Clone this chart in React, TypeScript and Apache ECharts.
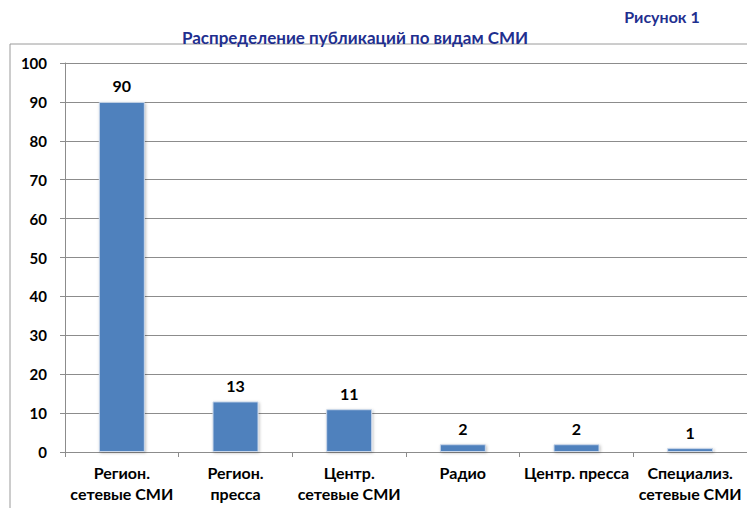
import React, { useEffect, useRef } from "react";
import * as echarts from "echarts";

const categories = [
  "Регион.\nсетевые СМИ",
  "Регион.\nпресса",
  "Центр.\nсетевые СМИ",
  "Радио",
  "Центр. пресса",
  "Специализ.\nсетевые СМИ",
];
const values = [90, 13, 11, 2, 2, 1];
const titleText = "Распределение публикаций по видам СМИ";
const figureText = "Рисунок 1";

const FONT = "Lato, 'Open Sans', sans-serif";

export default function App() {
  const ref = useRef<HTMLDivElement>(null);
  useEffect(() => {
    if (!ref.current) return;
    const chart = echarts.init(ref.current, null, { renderer: "svg" });
    chart.setOption({
      animation: false,
      backgroundColor: "#ffffff",
      textStyle: { fontFamily: FONT },
      graphic: [
        {
          type: "rect",
          shape: { x: 10, y: 44, width: 760, height: 500 },
          style: { fill: "none", stroke: "#9a9a9a", lineWidth: 1 },
          silent: true,
        },
        {
          type: "text",
          x: 662,
          y: 16,
          style: {
            text: figureText,
            fill: "#1F2F8F",
            font: `bold 16px ${FONT}`,
            align: "center",
            verticalAlign: "middle",
          },
        },
        {
          type: "text",
          x: 355,
          y: 37,
          style: {
            text: titleText,
            fill: "#1F2F8F",
            font: `bold 17px ${FONT}`,
            align: "center",
            verticalAlign: "middle",
          },
        },
      ],
      grid: { left: 65, top: 63, width: 686, height: 389, containLabel: false },
      xAxis: {
        type: "category",
        data: categories,
        axisLine: { lineStyle: { color: "#8c8c8c", width: 1 } },
        axisTick: { show: true, length: 5, lineStyle: { color: "#8c8c8c" } },
        axisLabel: {
          color: "#000",
          fontWeight: "bold",
          fontSize: 16,
          fontFamily: FONT,
          lineHeight: 21,
          margin: 10,
          interval: 0,
        },
      },
      yAxis: {
        type: "value",
        min: 0,
        max: 100,
        interval: 10,
        axisLine: { show: true, lineStyle: { color: "#8c8c8c", width: 1 } },
        axisTick: { show: true, length: 5, lineStyle: { color: "#8c8c8c" } },
        splitLine: { show: true, lineStyle: { color: "#8c8c8c", width: 1 } },
        axisLabel: {
          color: "#000",
          fontWeight: "bold",
          fontSize: 15,
          fontFamily: FONT,
          margin: 18,
        },
      },
      series: [
        {
          type: "bar",
          data: values,
          barWidth: 46,
          itemStyle: {
            color: "#4F81BD",
            borderColor: "#c9d7ea",
            borderWidth: 1,
            shadowColor: "rgba(0,0,0,0.25)",
            shadowBlur: 3,
            shadowOffsetX: 1,
            shadowOffsetY: 1,
          },
          label: {
            show: true,
            position: "top",
            distance: 8,
            color: "#000",
            fontWeight: "bold",
            fontSize: 16,
            fontFamily: FONT,
          },
        },
      ],
    });
    return () => chart.dispose();
  }, []);
  return (
    <div
      ref={ref}
      style={{ position: "absolute", left: 0, top: 0, width: 747, height: 508 }}
    />
  );
}
